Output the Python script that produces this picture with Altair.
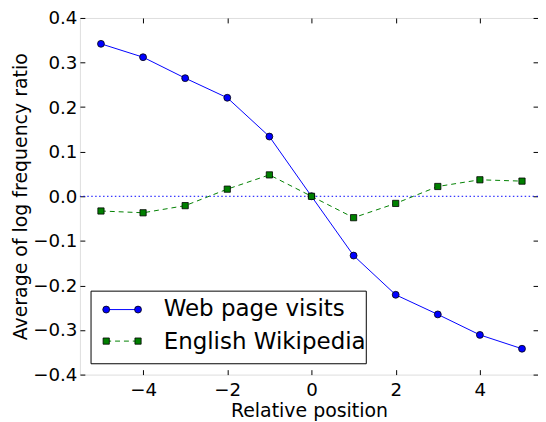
import altair as alt
import pandas as pd

positions = [-5, -4, -3, -2, -1, 0, 1, 2, 3, 4, 5]
web_visits = [0.342, 0.312, 0.265, 0.221, 0.134, 0.0, -0.133, -0.221, -0.265, -0.311, -0.342]
english_wiki = [-0.033, -0.037, -0.021, 0.016, 0.048, 0.0, -0.048, -0.016, 0.022, 0.037, 0.034]
x_ticks = [-4, -2, 0, 2, 4]
y_ticks = [-0.4, -0.3, -0.2, -0.1, 0.0, 0.1, 0.2, 0.3, 0.4]
series_names = ["Web page visits", "English Wikipedia"]

df = pd.DataFrame({"pos": positions, "web": web_visits, "wiki": english_wiki})

FONT = "DejaVu Sans"
BLUE = "#0000ff"
GREEN = "#008000"

xscale = alt.Scale(domain=[-5.5, 5.38], nice=False, zero=False)
yscale = alt.Scale(domain=[-0.4, 0.4], nice=False, zero=False)

common = dict(grid=False, domain=False, ticks=True, tickSize=5, tickColor="black",
              tickWidth=1, offset=-5)
label_style = dict(labelFont=FONT, labelFontSize=18.5, labelColor="black", labelFlush=False,
                   titleFont=FONT, titleFontSize=19.2, titleFontWeight="normal",
                   titleColor="black")

x_bottom = alt.Axis(orient="bottom", values=x_ticks, format="d", labelPadding=6,
                    title="Relative position", titlePadding=3, **common, **label_style)
y_left = alt.Axis(orient="left", values=y_ticks, format=".1f", labelPadding=3,
                  title="Average of log frequency ratio", titlePadding=2, **common, **label_style)
x_top = alt.Axis(orient="top", values=x_ticks, labels=False, title=None, **common)
y_right = alt.Axis(orient="right", values=y_ticks, labels=False, title=None, **common)

zero_line = alt.Chart(pd.DataFrame({"y": [0.0]})).mark_rule(
    color=BLUE, strokeDash=[1.5, 2.5], strokeWidth=1
).encode(y=alt.Y("y:Q", scale=yscale, axis=None))

web_line = alt.Chart(df).mark_line(color=BLUE, strokeWidth=1).encode(
    x=alt.X("pos:Q", scale=xscale, axis=x_bottom),
    y=alt.Y("web:Q", scale=yscale, axis=y_left),
)
web_pts = alt.Chart(df).mark_point(shape="circle", filled=True, fill=BLUE, stroke="black",
                                   strokeWidth=0.8, size=49, opacity=1).encode(
    x=alt.X("pos:Q", scale=xscale, axis=None),
    y=alt.Y("web:Q", scale=yscale, axis=None),
)
wiki_line = alt.Chart(df).mark_line(color=GREEN, strokeWidth=1, strokeDash=[5, 4]).encode(
    x=alt.X("pos:Q", scale=xscale, axis=x_top),
    y=alt.Y("wiki:Q", scale=yscale, axis=y_right),
)
wiki_pts = alt.Chart(df).mark_point(shape="square", filled=True, fill=GREEN, stroke="black",
                                    strokeWidth=0.8, size=40, opacity=1).encode(
    x=alt.X("pos:Q", scale=xscale, axis=None),
    y=alt.Y("wiki:Q", scale=yscale, axis=None),
)

one = pd.DataFrame({"a": [0]})
legend_box = alt.Chart(one).mark_rect(fill="white", stroke="black", strokeWidth=1).encode(
    x=alt.value(11.3), x2=alt.value(290.7), y=alt.value(277.3), y2=alt.value(351)
)
leg_web_line = alt.Chart(one).mark_rule(color=BLUE, strokeWidth=1).encode(
    x=alt.value(26.7), x2=alt.value(59), y=alt.value(296)
)
leg_wiki_line = alt.Chart(one).mark_rule(color=GREEN, strokeWidth=1, strokeDash=[5, 4]).encode(
    x=alt.value(26.7), x2=alt.value(59), y=alt.value(328)
)
leg_marks = []
for xv in [26.7, 59]:
    leg_marks.append(alt.Chart(one).mark_point(shape="circle", filled=True, fill=BLUE,
                                               stroke="black", strokeWidth=0.8, size=49,
                                               opacity=1).encode(x=alt.value(xv), y=alt.value(296)))
    leg_marks.append(alt.Chart(one).mark_point(shape="square", filled=True, fill=GREEN,
                                               stroke="black", strokeWidth=0.8, size=40,
                                               opacity=1).encode(x=alt.value(xv), y=alt.value(328)))
leg_text1 = alt.Chart(pd.DataFrame({"label": [series_names[0]]})).mark_text(
    font=FONT, fontSize=23.3, align="left", baseline="alphabetic", color="black"
).encode(x=alt.value(85), y=alt.value(302.7), text="label:N")
leg_text2 = alt.Chart(pd.DataFrame({"label": [series_names[1]]})).mark_text(
    font=FONT, fontSize=23.3, align="left", baseline="alphabetic", color="black"
).encode(x=alt.value(85), y=alt.value(336), text="label:N")

chart = alt.layer(
    zero_line, web_line, web_pts, wiki_line, wiki_pts,
    legend_box, leg_web_line, leg_wiki_line, *leg_marks, leg_text1, leg_text2
).resolve_axis(x="independent", y="independent").properties(
    width=465, height=362,
    autosize=alt.AutoSizeParams(type="none"),
    padding={"left": 73, "top": 7, "right": 0, "bottom": 45},
).configure_view(stroke="black", strokeWidth=1).configure(background="white")

chart.save("out.html", embed_options={"renderer": "svg", "actions": False})
